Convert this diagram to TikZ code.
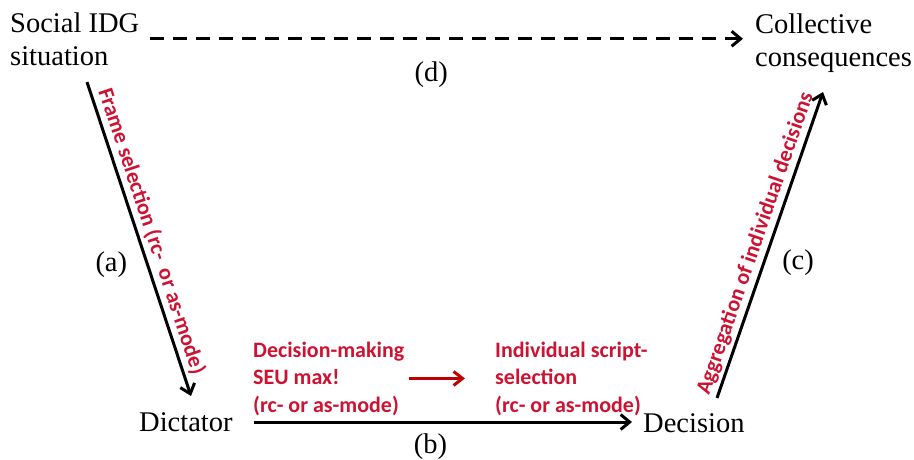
\documentclass[tikz,border=0pt]{standalone}
\usepackage{fontspec}
\setmainfont{Liberation Serif}
\newfontfamily\sansred{Carlito}
\usetikzlibrary{arrows.meta}
\usetikzlibrary{positioning}

\definecolor{labelred}{RGB}{205,18,50}
\definecolor{arrowred}{RGB}{192,0,0}

\tikzset{
  term/.style={font=\fontsize{28.5}{33}\selectfont, align=left, inner sep=0pt},
  tag/.style={font=\fontsize{28.5}{33}\selectfont, inner sep=0pt},
  note/.style={text=labelred, font=\sansred\bfseries\fontsize{22}{27.5}\selectfont, align=left, inner sep=0pt},
  link/.style={-{Straight Barb[length=9pt,width=15pt]}, line width=3pt},
  hint/.style={link, dash pattern=on 14pt off 9pt},
  redlink/.style={-{Straight Barb[length=9pt,width=14pt]}, line width=3pt, arrowred}
}

\begin{document}
\begin{tikzpicture}[x=1pt,y=-1pt]
  \useasboundingbox (0,0) rectangle (914,459);

  \node[term, anchor=base west] (sit) at (10,65) {Social IDG\\situation};
  \node[term, anchor=base west] (coll) at (755,66) {Collective\\consequences};
  \node[term, anchor=base west] (dict) at (139,431) {Dictator};
  \node[term, anchor=base west] (dec) at (643,432) {Decision};

  \node[note, anchor=base west] (dm) at (253,412) {Decision-making\\SEU max!\\(rc- or as-mode)};
  \node[note, anchor=base west] (isel) at (495,412) {Individual script-\\selection\\(rc- or as-mode)};

  \draw[hint] ([xshift=11pt]sit.east) -- ([xshift=-12pt]sit.east -| coll.west)
    node[tag, pos=0.474, below=21pt] {(d)};

  \draw[link] ([xshift=77pt,yshift=-17pt]sit.base west) -- ([xshift=52pt,yshift=35pt]dict.base west)
    node[note, sloped, pos=0.49, above=3pt] {Frame selection (rc-\ \ or as-mode)}
    node[tag, pos=0.583, left=19pt] {(a)};

  \draw[link] ([xshift=21pt,yshift=9pt]dict.base east) -- ([xshift=-11pt,yshift=10pt]dec.base west)
    node[tag, pos=0.467, below=10pt] {(b)};

  \draw[link] ([xshift=74pt,yshift=34pt]dec.base west) -- ([xshift=68pt,yshift=-26pt]coll.base west)
    node[note, sloped, pos=0.49, above=3pt] {Aggregation of individual decisions}
    node[tag, pos=0.441, right=17pt] {(c)};

  \draw[redlink] ([xshift=5pt]dm.east) -- ([xshift=-30pt]isel.west);
\end{tikzpicture}
\end{document}
